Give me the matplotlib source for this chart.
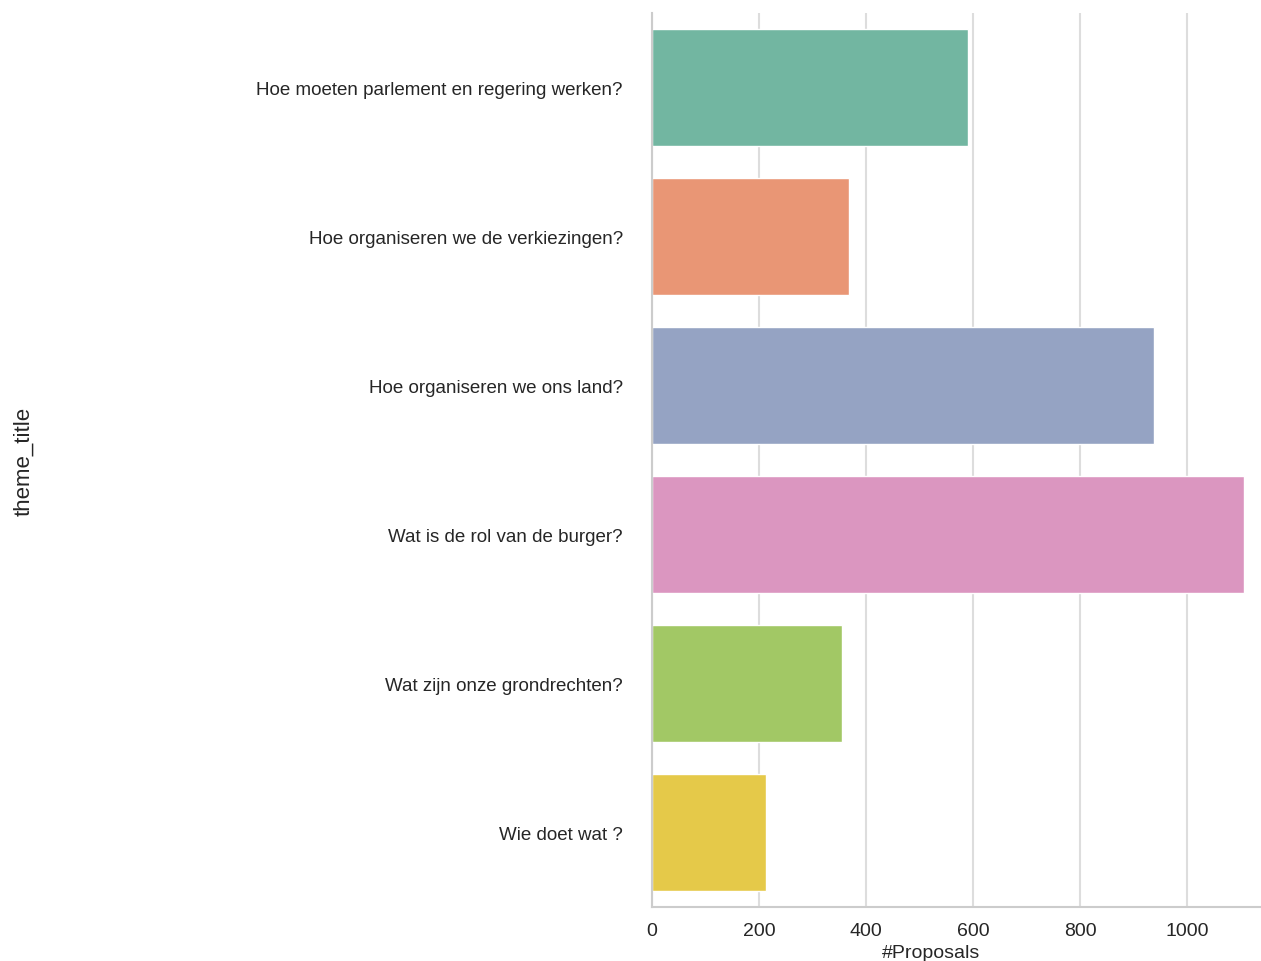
import matplotlib
matplotlib.use("Agg")
import matplotlib.pyplot as plt
import seaborn as sns

# 每个主题的提案数量
themes = [
    "Hoe moeten parlement en regering werken?",
    "Hoe organiseren we de verkiezingen?",
    "Hoe organiseren we ons land?",
    "Wat is de rol van de burger?",
    "Wat zijn onze grondrechten?",
    "Wie doet wat ?",
]
proposals = [591, 368, 938, 1107, 355, 213]
xticks = [0, 200, 400, 600, 800, 1000]

sns.set_style("whitegrid")
plt.rcParams["font.family"] = ["Liberation Sans", "DejaVu Sans"]

colors = sns.color_palette("Set2", len(themes), desat=0.75)

fig = plt.figure(figsize=(12.61, 9.62), dpi=100)
ax = fig.add_axes([0.517, 0.0561, 0.483, 0.9293])

ax.barh(range(len(themes)), proposals, height=0.79, color=colors, zorder=2)
ax.set_ylim(len(themes) - 0.5, -0.5)
ax.set_xlim(0, 1138)

ax.set_yticks(range(len(themes)))
ax.set_yticklabels(themes)
ax.set_xticks(xticks)
ax.tick_params(axis="y", length=0, pad=21, labelsize=13.5, labelcolor="#262626")
ax.tick_params(axis="x", length=0, pad=11, labelsize=14, labelcolor="#262626")

ax.grid(True, axis="x", color="#dddddd", linewidth=1.5, zorder=0)
ax.grid(False, axis="y")
for side in ["top", "right"]:
    ax.spines[side].set_visible(False)
for side in ["left", "bottom"]:
    ax.spines[side].set_color("#cccccc")
    ax.spines[side].set_linewidth(1.5)

ax.set_xlabel("#Proposals", fontsize=14, color="#262626")
ax.xaxis.set_label_coords(0.458, -0.041)
ax.set_ylabel("theme_title", fontsize=16, color="#262626")
ax.yaxis.set_label_coords(-1.014, 0.5)

fig.savefig("out.png", dpi=100)
